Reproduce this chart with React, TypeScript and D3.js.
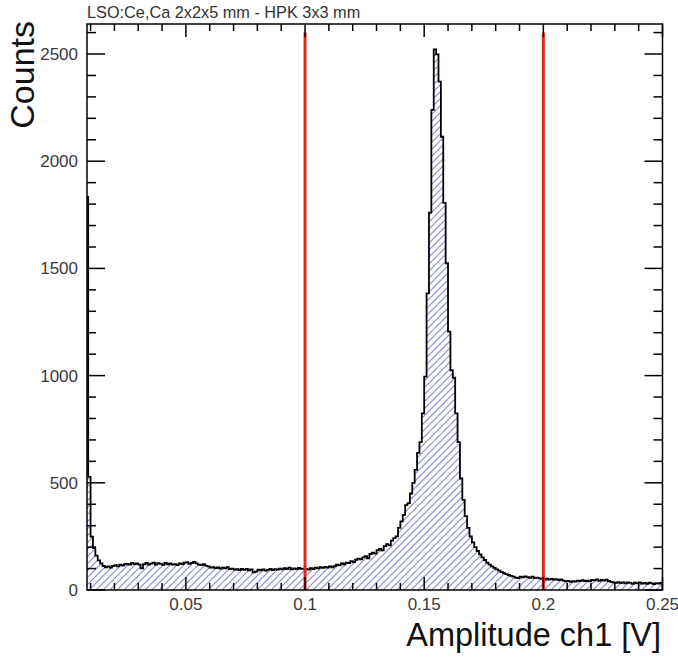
import React from "react";
import * as d3 from "d3";

const binStart = 0.008;
const binWidth = 0.001;
const counts: number[] = [
  1834, 528, 249, 195, 160, 138, 124, 112, 106, 110,
  104, 112, 116, 110, 118, 114, 120, 122, 118, 126,
  121, 124, 118, 101, 120, 126, 118, 123, 128, 119,
  125, 122, 117, 126, 120, 124, 118, 121, 116, 124,
  121, 127, 130, 122, 126, 131, 124, 118, 116, 120,
  114, 110, 104, 106, 102, 105, 100, 104, 101, 106,
  98, 100, 95, 97, 93, 99, 94, 98, 92, 96,
  82, 86, 95, 92, 96, 90, 94, 99, 93, 97,
  95, 100, 96, 102, 98, 104, 96, 101, 97, 103,
  99, 100, 98, 95, 102, 97, 104, 101, 107, 103,
  108, 104, 110, 106, 112, 118, 115, 124, 120, 128,
  126, 135, 130, 141, 146, 143, 152, 158, 148, 168,
  174, 170, 186, 192, 185, 205, 214, 208, 230, 242,
  250, 290, 320, 350, 396, 405, 450, 500, 560, 640,
  690, 824, 995, 1384, 1760, 2239, 2522, 2498, 2371, 2114,
  1806, 1524, 1205, 1025, 990, 824, 690, 520, 420, 345,
  290, 250, 222, 200, 182, 166, 152, 140, 128, 118,
  110, 103, 96, 90, 84, 79, 74, 70, 66, 62,
  58, 55, 62, 59, 64, 60, 57, 62, 55, 58,
  54, 52, 50, 53, 48, 52, 49, 51, 46, 50,
  44, 40, 43, 38, 41, 39, 44, 42, 46, 41,
  44, 40, 47, 45, 49, 43, 47, 44, 48, 42,
  38, 36, 33, 37, 32, 36, 31, 35, 33, 29,
  34, 31, 36, 30, 33, 29, 34, 31, 28, 32,
  30, 33,
];

const xDomain: [number, number] = [0.0085, 0.25];
const yDomain: [number, number] = [0, 2640];
const xMajorTicks = [0.05, 0.1, 0.15, 0.2, 0.25];
const xTickLabels = ["0.05", "0.1", "0.15", "0.2", "0.25"];
const xMinorTicks = [0.01, 0.02, 0.03, 0.04, 0.06, 0.07, 0.08, 0.09, 0.11, 0.12, 0.13, 0.14, 0.16, 0.17, 0.18, 0.19, 0.21, 0.22, 0.23, 0.24];
const yMajorTicks = [0, 500, 1000, 1500, 2000, 2500];
const yTickLabels = ["0", "500", "1000", "1500", "2000", "2500"];
const yMinorStep = 100;
const cutValues = [0.1, 0.2];
const cutTop = 2600;

const title = "LSO:Ce,Ca 2x2x5 mm - HPK 3x3 mm";
const xTitle = "Amplitude ch1 [V]";
const yTitle = "Counts";

const W = 678;
const H = 657;
const L = 87;
const R = 662.5;
const T = 24;
const B = 590;
const FONT = "'Liberation Sans', Arial, Helvetica, sans-serif";

export default function App() {
  const x = d3.scaleLinear().domain(xDomain).range([L, R]);
  const y = d3.scaleLinear().domain(yDomain).range([B, T]);

  const pts: [number, number][] = [];
  pts.push([x(binStart), y(0)]);
  counts.forEach((c, i) => {
    const lo = binStart + i * binWidth;
    const hi = lo + binWidth;
    pts.push([x(lo), y(c)]);
    pts.push([x(hi), y(c)]);
  });
  pts.push([x(binStart + counts.length * binWidth), y(0)]);
  const line = d3.line<[number, number]>().x((d) => d[0]).y((d) => d[1]);
  const d = line(pts) || "";

  const yMinor: number[] = [];
  for (let v = 0; v <= yDomain[1]; v += yMinorStep) {
    if (v % 500 !== 0) yMinor.push(v);
  }

  return (
    <svg width={W} height={H} style={{ position: "absolute", left: 0, top: 0, background: "#fff" }} fontFamily={FONT}>
      <defs>
        <clipPath id="frame">
          <rect x={L} y={T} width={R - L} height={B - T} />
        </clipPath>
        <pattern id="hatch" patternUnits="userSpaceOnUse" width={7} height={7}>
          <path d="M-1,1 l2,-2 M0,7 l7,-7 M6,8 l2,-2" stroke="#8686d6" strokeWidth={1.1} />
        </pattern>
      </defs>
      <rect x={0} y={0} width={W} height={H} fill="#fff" />
      <g clipPath="url(#frame)">
        <path d={d} fill="url(#hatch)" stroke="none" />
        <path d={d} fill="none" stroke="#000" strokeWidth={1.8} strokeLinejoin="miter" />
      </g>
      {cutValues.map((v) => (
        <line key={v} x1={x(v)} x2={x(v)} y1={y(0)} y2={y(cutTop)} stroke="#e3261f" strokeWidth={3} />
      ))}
      <rect x={L} y={T} width={R - L} height={B - T} fill="none" stroke="#000" strokeWidth={1.5} />
      {xMajorTicks.map((v) => (
        <g key={"xM" + v}>
          <line x1={x(v)} x2={x(v)} y1={B} y2={B - 13} stroke="#000" strokeWidth={1.5} />
          <line x1={x(v)} x2={x(v)} y1={T} y2={T + 13} stroke="#000" strokeWidth={1.5} />
        </g>
      ))}
      {xMinorTicks.map((v) => (
        <g key={"xm" + v}>
          <line x1={x(v)} x2={x(v)} y1={B} y2={B - 7} stroke="#000" strokeWidth={1.5} />
          <line x1={x(v)} x2={x(v)} y1={T} y2={T + 7} stroke="#000" strokeWidth={1.5} />
        </g>
      ))}
      {xMajorTicks.map((v, i) => (
        <text key={"xl" + v} x={x(v)} y={610} textAnchor="middle" fontSize={17} fill="#3a3a3a">
          {xTickLabels[i]}
        </text>
      ))}
      {yMajorTicks.map((v) => (
        <g key={"yM" + v}>
          <line x1={L} x2={L + 18} y1={y(v)} y2={y(v)} stroke="#000" strokeWidth={1.5} />
          <line x1={R} x2={R - 18} y1={y(v)} y2={y(v)} stroke="#000" strokeWidth={1.5} />
        </g>
      ))}
      {yMinor.map((v) => (
        <g key={"ym" + v}>
          <line x1={L} x2={L + 9} y1={y(v)} y2={y(v)} stroke="#000" strokeWidth={1.5} />
          <line x1={R} x2={R - 9} y1={y(v)} y2={y(v)} stroke="#000" strokeWidth={1.5} />
        </g>
      ))}
      {yMajorTicks.map((v, i) => (
        <text key={"yl" + v} x={78} y={y(v)} dy="0.35em" textAnchor="end" fontSize={17} fill="#3a3a3a">
          {yTickLabels[i]}
        </text>
      ))}
      <text x={87} y={18} fontSize={16.3} fill="#333">{title}</text>
      <text x={661} y={646} textAnchor="end" fontSize={32.5} fill="#111">{xTitle}</text>
      <text transform="translate(34,21) rotate(-90)" textAnchor="end" fontSize={34} fill="#111">{yTitle}</text>
    </svg>
  );
}
